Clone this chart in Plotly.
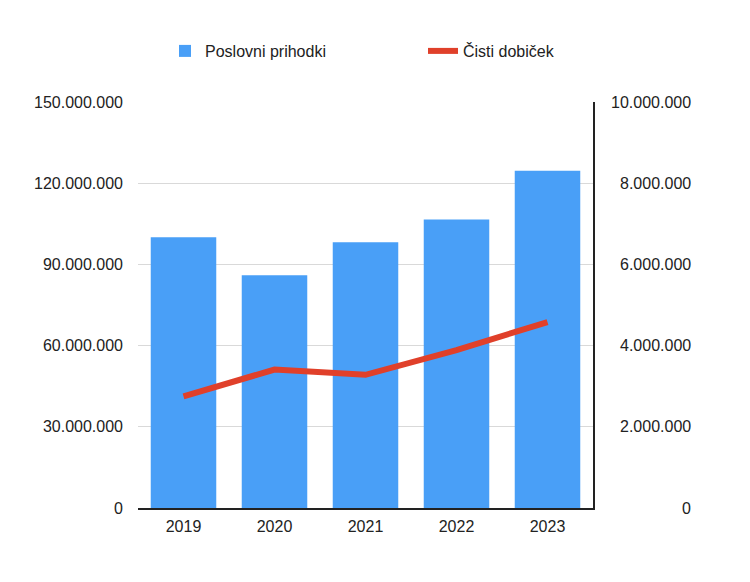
import plotly.graph_objects as go

years = ["2019", "2020", "2021", "2022", "2023"]
poslovni_prihodki = [100_000_000, 86_000_000, 98_200_000, 106_600_000, 124_600_000]
cisti_dobicek = [2_750_000, 3_410_000, 3_280_000, 3_890_000, 4_580_000]

left_ticks = [0, 30_000_000, 60_000_000, 90_000_000, 120_000_000, 150_000_000]
right_ticks = [0, 2_000_000, 4_000_000, 6_000_000, 8_000_000, 10_000_000]


def fmt(v):
    return f"{v:,}".replace(",", ".")


FONT = "Liberation Sans, Arial, Helvetica, sans-serif"

fig = go.Figure()
fig.add_trace(go.Bar(
    x=years, y=poslovni_prihodki, name="Poslovni prihodki",
    marker=dict(color="#499ff7", line=dict(width=0)),
    yaxis="y", legend="legend",
))
fig.add_trace(go.Scatter(
    x=years, y=cisti_dobicek, name="Čisti dobiček", mode="lines",
    line=dict(color="#e0402a", width=6),
    yaxis="y2", legend="legend2",
))

annotations = [
    dict(x=1.22, xref="paper", xanchor="right", y=v, yref="y2", yanchor="middle",
         text=fmt(v), showarrow=False, font=dict(size=16, color="#222222", family=FONT))
    for v in right_ticks
]

legend_common = dict(orientation="h", xref="container", xanchor="left",
                     y=1 - 51 / 582, yref="container", yanchor="middle",
                     font=dict(size=16, color="#222222", family=FONT),
                     bgcolor="rgba(0,0,0,0)")

fig.update_layout(
    width=750, height=582,
    margin=dict(l=138, r=157, t=102, b=74),
    paper_bgcolor="white", plot_bgcolor="white",
    font=dict(family=FONT, size=16, color="#222222"),
    bargap=0.28,
    showlegend=True,
    legend=dict(x=165 / 750, **legend_common),
    legend2=dict(x=423 / 750, **legend_common),
    xaxis=dict(showgrid=False, showline=True, linecolor="#222222", linewidth=1.5,
               ticks="", tickfont=dict(size=16), ticklabelstandoff=3, fixedrange=True),
    yaxis=dict(range=[0, 150_000_000], tickvals=left_ticks,
               ticktext=[fmt(v) for v in left_ticks],
               showgrid=True, gridcolor="#d9d9d9", gridwidth=1,
               zeroline=False, showline=False, ticks="",
               ticklabelstandoff=14, tickfont=dict(size=16)),
    yaxis2=dict(range=[0, 10_000_000], overlaying="y", side="right",
                tickvals=right_ticks, showticklabels=False,
                showgrid=False, zeroline=False, showline=True,
                linecolor="#222222", linewidth=1.5, ticks=""),
    annotations=annotations,
)

fig.write_html("out.html")
